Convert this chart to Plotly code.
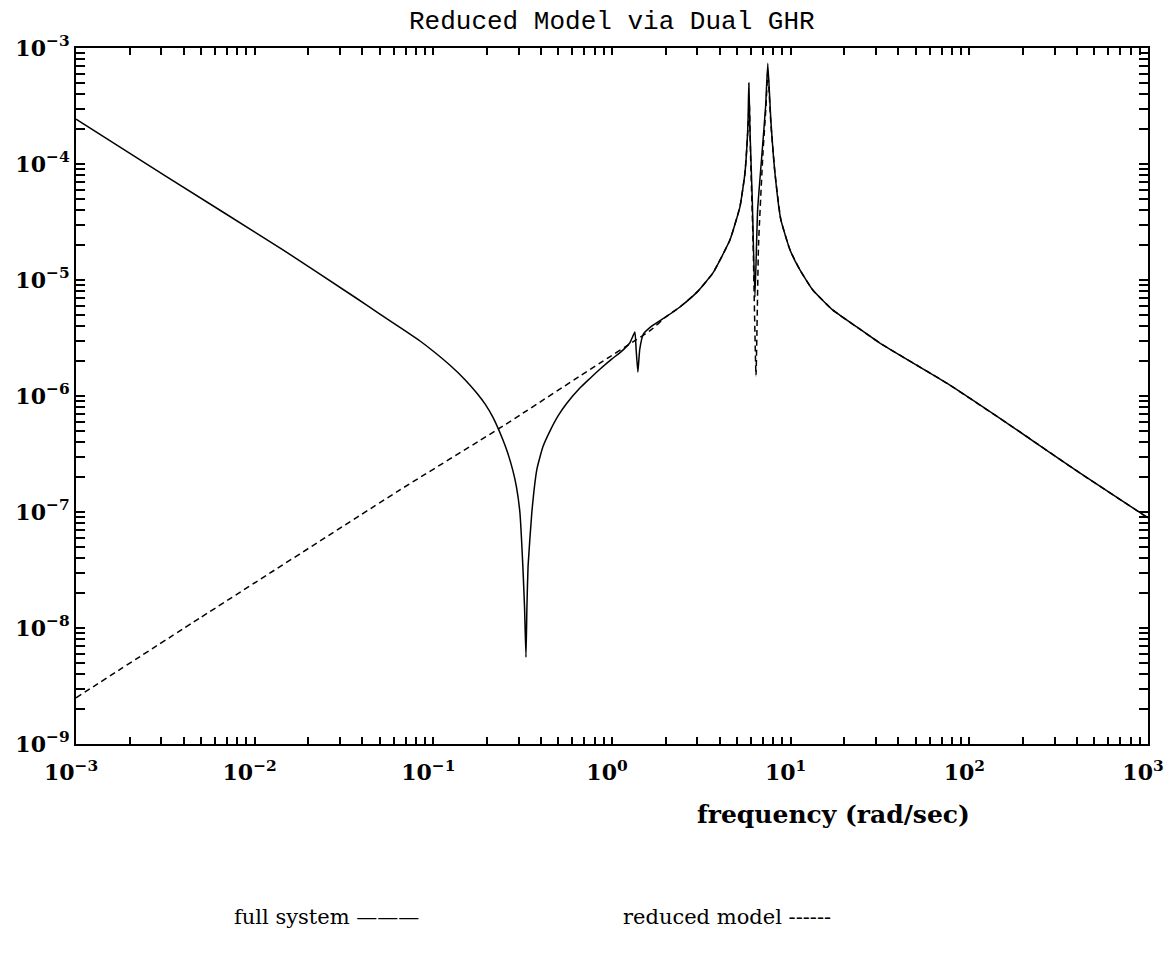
import plotly.graph_objects as go

# ---- data (frequency in rad/sec, magnitude) ----
full_freq = [1.0e-3, 3.16e-3, 1.44e-2, 3.64e-2, 5.0e-2, 6.76e-2, 8.5e-2, 0.100, 0.124, 0.150,
             0.175, 0.195, 0.215, 0.245, 0.260, 0.279, 0.292, 0.305, 0.317, 0.324,
             0.330, 0.334, 0.339, 0.356, 0.380, 0.410, 0.450, 0.500, 0.560, 0.661,
             0.750, 0.855, 1.000, 1.122, 1.259, 1.343, 1.365, 1.396, 1.429, 1.496,
             1.660, 2.000, 2.399, 3.000, 3.673, 4.571, 5.200, 5.546, 5.768, 5.834,
             5.916, 6.095, 6.310, 6.531, 6.918, 7.244, 7.447, 7.745, 8.166, 8.810,
             9.91, 11.27, 13.30, 17.22, 23.44, 31.55, 74.8, 175.0, 415.0, 1000.0]
full_mag = [2.44e-4, 7.9e-5, 1.82e-5, 7.1e-6, 5.1e-6, 3.75e-6, 2.95e-6, 2.43e-6, 1.84e-6, 1.39e-6,
            1.06e-6, 8.5e-7, 6.6e-7, 4.2e-7, 3.27e-7, 2.26e-7, 1.64e-7, 1.0e-7, 3.4e-8, 1.5e-8,
            5.6e-9, 1.5e-8, 3.4e-8, 1.0e-7, 2.34e-7, 3.63e-7, 5.0e-7, 6.76e-7, 8.7e-7, 1.17e-6,
            1.41e-6, 1.70e-6, 2.09e-6, 2.4e-6, 2.88e-6, 3.56e-6, 2.51e-6, 1.61e-6, 2.51e-6, 3.4e-6,
            3.98e-6, 4.8e-6, 5.85e-6, 7.9e-6, 1.15e-5, 2.21e-5, 4.27e-5, 8.3e-5, 2.24e-4, 5.0e-4,
            2.0e-4, 5.0e-5, 7.1e-6, 4.0e-5, 1.26e-4, 3.16e-4, 7.4e-4, 2.4e-4, 8.36e-5, 3.31e-5,
            1.82e-5, 1.22e-5, 8.2e-6, 5.5e-6, 3.94e-6, 2.86e-6, 1.29e-6, 5.4e-7, 2.17e-7, 8.9e-8]

red_freq = [1.0e-3, 4.94e-3, 6.5e-2, 0.236, 0.855, 1.343, 1.660, 2.000, 2.399, 3.000,
            3.673, 4.571, 5.200, 5.546, 5.768, 5.866, 5.957, 6.166, 6.397, 6.607,
            7.0, 7.278, 7.447, 7.745, 8.166, 8.810, 9.91, 11.27, 13.30, 17.22,
            23.44, 31.55, 74.8, 175.0, 415.0, 1000.0]
red_mag = [2.5e-9, 1.22e-8, 1.55e-7, 5.3e-7, 1.92e-6, 3.0e-6, 3.73e-6, 4.8e-6, 5.85e-6, 7.9e-6,
           1.15e-5, 2.21e-5, 4.27e-5, 8.3e-5, 2.0e-4, 3.5e-4, 1.26e-4, 2.0e-5, 1.5e-6, 2.0e-5,
           1.26e-4, 3.16e-4, 6.3e-4, 2.24e-4, 8.36e-5, 3.31e-5, 1.82e-5, 1.22e-5, 8.2e-6, 5.5e-6,
           3.94e-6, 2.86e-6, 1.29e-6, 5.4e-7, 2.17e-7, 8.9e-8]

x_ticks = [1e-3, 1e-2, 1e-1, 1e0, 1e1, 1e2, 1e3]
x_labels = ["10<sup>−3</sup>", "10<sup>−2</sup>", "10<sup>−1</sup>", "10<sup>0</sup>",
            "10<sup>1</sup>", "10<sup>2</sup>", "10<sup>3</sup>"]
y_ticks = [1e-9, 1e-8, 1e-7, 1e-6, 1e-5, 1e-4, 1e-3]
y_labels = ["10<sup>−9</sup>", "10<sup>−8</sup>", "10<sup>−7</sup>", "10<sup>−6</sup>",
            "10<sup>−5</sup>", "10<sup>−4</sup>", "10<sup>−3</sup>"]

title_text = "Reduced Model via Dual GHR"
xlabel_text = "frequency (rad/sec)"
legend_full = "full system ———"
legend_red = "reduced model ------"

# minor tick positions (2..9 within each decade)
x_minor = [m * 10.0 ** e for e in range(-3, 3) for m in range(2, 10)]
y_minor = [m * 10.0 ** e for e in range(-9, -3) for m in range(2, 10)]

fig = go.Figure()
fig.add_trace(go.Scatter(x=red_freq, y=red_mag, mode="lines",
                         line=dict(color="black", width=1.5, dash="6px,4px",
                                   shape="spline", smoothing=0.4),
                         showlegend=False, name="reduced model"))
fig.add_trace(go.Scatter(x=full_freq, y=full_mag, mode="lines",
                         line=dict(color="black", width=1.5, shape="spline", smoothing=0.4),
                         showlegend=False, name="full system"))

tickfont = dict(family="DejaVu Serif", size=22, color="black", weight="bold")

fig.update_xaxes(type="log", range=[-3, 3], showgrid=False, zeroline=False, automargin=False,
                 showline=True, linecolor="black", linewidth=2, mirror="allticks",
                 ticks="inside", ticklen=7, tickwidth=1.5, tickcolor="black",
                 tickmode="array", tickvals=x_ticks, ticktext=x_labels,
                 tickfont=tickfont, ticklabelstandoff=8, ticklabelshift=-5,
                 minor=dict(ticks="inside", ticklen=7, tickwidth=1.5, tickcolor="black",
                            tickmode="array", tickvals=x_minor, showgrid=False))
fig.update_yaxes(type="log", range=[-9, -3], showgrid=False, zeroline=False, automargin=False,
                 showline=True, linecolor="black", linewidth=2, mirror="allticks",
                 ticks="inside", ticklen=9, tickwidth=1.5, tickcolor="black",
                 tickmode="array", tickvals=y_ticks, ticktext=y_labels,
                 tickfont=tickfont,
                 minor=dict(ticks="inside", ticklen=9, tickwidth=1.5, tickcolor="black",
                            tickmode="array", tickvals=y_minor, showgrid=False))

# the page body adds an 8px margin, so the figure is sized to fit inside the window
fig.update_layout(
    width=1164, height=940,
    margin=dict(l=68, r=24, t=40, b=204),
    paper_bgcolor="white", plot_bgcolor="white",
    showlegend=False,
    annotations=[
        dict(text=title_text, xref="paper", yref="paper", x=0.5, y=1.037,
             xanchor="center", yanchor="middle", showarrow=False,
             font=dict(family="Liberation Mono", size=26, color="black")),
        dict(text=xlabel_text, xref="paper", yref="paper", x=0.707, y=-0.102,
             xanchor="center", yanchor="middle", showarrow=False,
             font=dict(family="DejaVu Serif", size=25, color="black", weight="bold")),
        dict(text=legend_full, xref="paper", yref="paper", x=0.1455, y=-0.2486,
             xanchor="left", yanchor="middle", showarrow=False,
             font=dict(family="DejaVu Serif", size=21, color="black")),
        dict(text=legend_red, xref="paper", yref="paper", x=0.508, y=-0.2486,
             xanchor="left", yanchor="middle", showarrow=False,
             font=dict(family="DejaVu Serif", size=21, color="black")),
    ],
)

fig.write_html("out.html")
